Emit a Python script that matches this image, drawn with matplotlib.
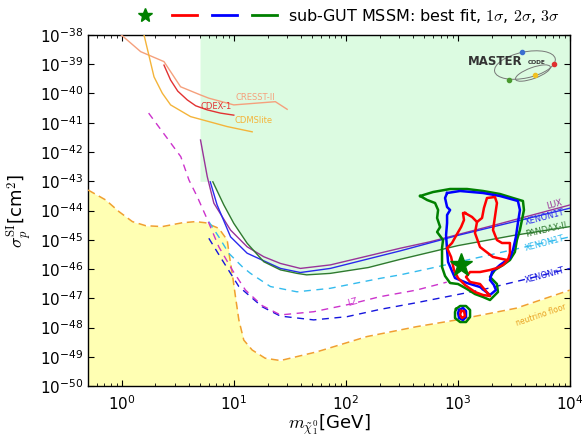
import numpy as np
import matplotlib
matplotlib.use("Agg")
import matplotlib.pyplot as plt
from matplotlib.lines import Line2D
from matplotlib.patches import Ellipse
from matplotlib.ticker import LogLocator, NullLocator

# all curves stored as log10(m / GeV), log10(sigma / cm^2)
cresst_logm = [-0.05, 0.006, 0.169, 0.377, 0.525, 0.703, 0.777, 1.0, 1.371, 1.476]
cresst_logs = [-37.85, -38.03, -38.57, -38.91, -39.77, -40.05, -40.16, -40.39, -40.28, -40.54]

cdex_logm = [0.377, 0.436, 0.50, 0.585, 0.66, 0.763, 0.88, 1.0]
cdex_logs = [-39.03, -39.54, -39.92, -40.22, -40.42, -40.56, -40.67, -40.74]

cdms_logm = [0.18, 0.199, 0.288, 0.362, 0.436, 0.614, 0.94, 1.164]
cdms_logs = [-37.7, -38.0, -39.43, -39.99, -40.39, -40.79, -41.13, -41.31]

lux_logm = [0.703, 0.763, 0.822, 0.971, 1.119, 1.267, 1.416, 1.594, 1.861, 2.485, 2.75, 3.375, 4.0]
lux_logs = [-41.59, -42.84, -43.75, -44.67, -45.24, -45.58, -45.81, -45.98, -45.86, -45.29, -45.07, -44.45, -43.81]

x1t_logm = [0.79, 0.85, 0.971, 1.119, 1.416, 1.594, 1.861, 2.485, 3.0, 4.0]
x1t_logs = [-43.02, -43.80, -44.90, -45.46, -45.98, -46.12, -45.98, -45.38, -44.85, -43.92]

pandax_logm = [0.813, 0.911, 1.0, 1.119, 1.267, 1.416, 1.565, 1.65, 1.86, 2.2, 2.485, 3.0, 3.5, 4.0]
pandax_logs = [-43.02, -43.81, -44.44, -45.12, -45.75, -46.03, -46.15, -46.20, -46.15, -45.95, -45.67, -45.20, -44.85, -44.55]

x1t_proj_logm = [0.777, 0.866, 0.955, 1.075, 1.149, 1.327, 1.564, 1.86, 2.306, 2.485, 2.75, 4.0]
x1t_proj_logs = [-44.38, -44.90, -45.46, -45.92, -46.15, -46.60, -46.78, -46.66, -46.32, -46.20, -45.98, -44.90]

xnt_logm = [0.777, 0.896, 1.045, 1.253, 1.416, 1.713, 2.01, 2.306, 2.633, 3.226, 3.82, 4.0]
xnt_logs = [-44.95, -45.69, -46.60, -47.29, -47.61, -47.74, -47.63, -47.38, -47.15, -46.70, -46.15, -45.98]

lz_logm = [0.24, 0.40, 0.527, 0.60, 0.674, 0.763, 0.866, 0.986, 1.104, 1.253, 1.416, 1.713, 2.04, 2.30, 2.63, 2.90]
lz_logs = [-40.67, -41.50, -42.16, -42.96, -43.53, -44.30, -45.24, -46.03, -46.72, -47.25, -47.57, -47.46, -47.20, -46.95, -46.72, -46.45]

nu_logm = [-0.30, -0.143, -0.024, 0.095, 0.214, 0.362, 0.54, 0.659, 0.748, 0.866, 0.941, 0.962,
           0.986, 1.015, 1.045, 1.089, 1.164, 1.28, 1.416, 1.743, 2.188, 2.633, 2.99, 3.52, 4.0]
nu_logs = [-43.30, -43.64, -44.04, -44.38, -44.52, -44.55, -44.42, -44.38, -44.42, -44.61, -45.01, -45.58,
           -46.15, -46.95, -47.74, -48.43, -48.77, -49.05, -49.13, -48.83, -48.31, -47.97, -47.74, -47.34, -46.72]

# sub-GUT MSSM fit: 1, 2, 3 sigma regions and best-fit point
one_sig_logm = [3.063, 3.126, 3.170, 3.215, 3.232, 3.259, 3.330, 3.348, 3.330, 3.313, 3.348, 3.393,
                3.464, 3.464, 3.446, 3.402, 3.348, 3.286, 3.197, 3.108, 3.072, 3.108, 3.197, 3.241,
                3.286, 3.224, 3.152, 3.063, 3.001, 2.965, 2.939, 2.903, 2.947, 2.992, 3.028, 3.054, 3.045]
one_sig_logs = [-44.085, -44.222, -44.393, -44.256, -43.915, -43.573, -43.538, -43.744, -44.222, -44.667,
                -45.009, -45.111, -45.111, -45.453, -45.692, -45.863, -45.966, -46.034, -46.103, -46.103,
                -46.274, -46.444, -46.513, -46.718, -46.923, -46.889, -46.786, -46.547, -46.308, -46.034,
                -45.590, -45.282, -45.111, -44.803, -44.564, -44.325, -44.085]
one_sig_fold_logm = [3.170, 3.152, 3.197, 3.313, 3.437]
one_sig_fold_logs = [-44.393, -44.769, -45.248, -45.590, -45.692]

two_sig_logm = [2.903, 3.019, 3.224, 3.375, 3.535, 3.553, 3.535, 3.517, 3.491, 3.464, 3.375, 3.304, 3.286,
                3.321, 3.339, 3.286, 3.197, 3.081, 2.974, 2.912, 2.903, 2.894, 2.903, 2.903, 2.930, 2.903, 2.885]
two_sig_logs = [-43.402, -43.333, -43.402, -43.504, -43.675, -43.983, -44.427, -44.906, -45.350, -45.624,
                -45.863, -46.103, -46.376, -46.547, -46.718, -46.889, -46.615, -46.479, -46.308, -45.761,
                -45.350, -44.838, -44.427, -44.154, -43.983, -43.880, -43.573]

three_sig_logm = [2.663, 2.778, 2.930, 3.081, 3.224, 3.375, 3.491, 3.580, 3.589, 3.571, 3.553, 3.526, 3.508,
                  3.464, 3.402, 3.330, 3.286, 3.348, 3.357, 3.286, 3.224, 3.152, 3.081, 3.001, 2.930, 2.885,
                  2.858, 2.858, 2.858, 2.867, 2.814, 2.841, 2.814, 2.823, 2.796, 2.725]
three_sig_logs = [-43.504, -43.368, -43.265, -43.265, -43.333, -43.436, -43.573, -43.675, -43.983, -44.325,
                  -44.667, -45.009, -45.419, -45.692, -45.863, -46.034, -46.274, -46.513, -46.786, -47.060,
                  -46.957, -46.855, -46.684, -46.513, -46.479, -46.239, -45.932, -45.556, -45.282, -45.009,
                  -44.735, -44.564, -44.256, -43.983, -43.744, -43.641]

island3_logm = [2.983, 3.019, 3.072, 3.108, 3.108, 3.072, 3.019, 2.974, 2.974]
island3_logs = [-47.368, -47.265, -47.265, -47.402, -47.641, -47.812, -47.812, -47.675, -47.470]
island2_logm = [3.010, 3.045, 3.072, 3.072, 3.045, 3.010, 3.001]
island2_logs = [-47.402, -47.333, -47.436, -47.641, -47.744, -47.675, -47.504]
island1_logm = [3.028, 3.054, 3.063, 3.037, 3.019]
island1_logs = [-47.436, -47.436, -47.607, -47.675, -47.573]

best_fit_logm = 3.028
best_fit_logs = -45.863

# excluded region starts at 5 GeV
excl_min_logm = 0.703


def pts(logm, logs, close=False):
    m = 10.0 ** np.asarray(logm, dtype=float)
    s = 10.0 ** np.asarray(logs, dtype=float)
    if close:
        m = np.append(m, m[0])
        s = np.append(s, s[0])
    return m, s


plt.rcParams["font.family"] = "DejaVu Sans"
plt.rcParams["mathtext.fontset"] = "dejavusans"

fig = plt.figure(figsize=(5.82, 4.38), dpi=100)
ax = fig.add_axes([0.1512, 0.1187, 0.8282, 0.8014])
ax.set_xscale("log")
ax.set_yscale("log")
ax.set_xlim(0.5, 1e4)
ax.set_ylim(1e-50, 1e-38)

# excluded region (green) bounded below by PandaX-II
pm, ps = pts(pandax_logm, pandax_logs)
gx = np.concatenate([[10 ** excl_min_logm, 10 ** excl_min_logm], pm, [1e4]])
gy = np.concatenate([[1e-38, ps[0]], ps, [1e-38]])
ax.fill(gx, gy, color="#dcfbe1", lw=0, zorder=1)

# neutrino floor
nm, ns = pts(nu_logm, nu_logs)
ax.fill_between(nm, 1e-50, ns, color="#ffffb3", lw=0, zorder=1)
ax.plot(nm, ns, ls=(0, (5, 3)), color="#f0a030", lw=1.1, zorder=3)

# low-mass limits
ax.plot(*pts(cresst_logm, cresst_logs), color="#f5a07c", lw=1.0, zorder=3)
ax.plot(*pts(cdex_logm, cdex_logs), color="#e23232", lw=1.0, zorder=3)
ax.plot(*pts(cdms_logm, cdms_logs), color="#f4b43a", lw=1.0, zorder=3)
ax.text(10 ** 1.193, 10 ** -40.12, "CRESST-II", color="#f5a07c", fontsize=6, ha="center", va="center")
ax.text(10 ** 0.846, 10 ** -40.43, "CDEX-1", color="#e23232", fontsize=6, ha="center", va="center")
ax.text(10 ** 1.175, 10 ** -40.94, "CDMSlite", color="#f4b43a", fontsize=6, ha="center", va="center")

# current limits
ax.plot(*pts(lux_logm, lux_logs), color="#993399", lw=1.0, zorder=3)
ax.plot(*pts(x1t_logm, x1t_logs), color="#2a2aee", lw=1.0, zorder=3)
ax.plot(*pts(pandax_logm, pandax_logs), color="#2f7a2f", lw=1.0, zorder=3)

# projected sensitivities
ax.plot(*pts(x1t_proj_logm, x1t_proj_logs), ls=(0, (5, 4)), color="#33bbee", lw=1.0, zorder=3)
ax.plot(*pts(xnt_logm, xnt_logs), ls=(0, (5, 4)), color="#1515dd", lw=1.0, zorder=3)
ax.plot(*pts(lz_logm, lz_logs), ls=(0, (5, 4)), color="#cc33cc", lw=1.0, zorder=3)

lbl = dict(fontsize=6, ha="center", va="center", rotation_mode="anchor")
ax.text(10 ** 3.856, 10 ** -43.81, "LUX", color="#993399", rotation=15, **lbl)
ax.text(10 ** 3.776, 10 ** -44.22, "XENON1T", color="#2a2aee", rotation=15, **lbl)
ax.text(10 ** 3.785, 10 ** -44.67, "PANDAX-II", color="#2f7a2f", rotation=13, **lbl)
ax.text(10 ** 3.776, 10 ** -45.11, "XENON1T", color="#33bbee", rotation=15, **lbl)
ax.text(10 ** 3.776, 10 ** -46.21, "XENONnT", color="#1515dd", rotation=15, **lbl)
ax.text(10 ** 2.057, 10 ** -47.13, "LZ", color="#cc33cc", rotation=15, **lbl)
ax.text(10 ** 3.74, 10 ** -47.58, "neutrino floor", color="#e8a020", rotation=19,
        **{**lbl, "fontsize": 5.5})

# sub-GUT MSSM regions
ax.plot(*pts(three_sig_logm, three_sig_logs, close=True), color="#008000", lw=1.8, zorder=5)
ax.plot(*pts(two_sig_logm, two_sig_logs, close=True), color="blue", lw=1.8, zorder=6)
ax.plot(*pts(one_sig_logm, one_sig_logs, close=True), color="red", lw=1.8, zorder=7)
ax.plot(*pts(one_sig_fold_logm, one_sig_fold_logs), color="red", lw=1.8, zorder=7)
ax.plot(*pts(island3_logm, island3_logs, close=True), color="#008000", lw=1.8, zorder=5)
ax.plot(*pts(island2_logm, island2_logs, close=True), color="blue", lw=1.8, zorder=6)
ax.plot(*pts(island1_logm, island1_logs, close=True), color="red", lw=1.8, zorder=7)
ax.plot(10 ** best_fit_logm, 10 ** best_fit_logs, marker="*", color="#008000", ms=17, ls="none", zorder=8)

# axes styling
ax.yaxis.set_major_locator(LogLocator(base=10, numticks=20))
ax.yaxis.set_minor_locator(NullLocator())
ax.xaxis.set_major_locator(LogLocator(base=10, numticks=10))
ax.xaxis.set_minor_locator(LogLocator(base=10, subs=np.arange(2, 10), numticks=20))
ax.tick_params(which="both", direction="in", top=True, right=True, labelsize=11)
ax.tick_params(which="major", length=4, width=0.8)
ax.tick_params(which="minor", length=2, width=0.6)
ax.tick_params(axis="x", pad=6)
for sp in ax.spines.values():
    sp.set_linewidth(1.0)

ax.set_xlabel(r"$m_{\tilde{\chi}^0_1}$[GeV]", fontsize=13, math_fontfamily="cm", labelpad=0)
ax.set_ylabel(r"$\sigma_p^{\rm SI}$[cm$^2$]", fontsize=13, math_fontfamily="cm", labelpad=4)

# legend above the axes
handles = [
    Line2D([], [], marker="*", color="#008000", ls="none", ms=10),
    Line2D([], [], color="red", lw=2),
    Line2D([], [], color="blue", lw=2),
    Line2D([], [], color="#008000", lw=2),
]
labels = ["", "", "", r"sub-GUT MSSM: best fit, $1\sigma$, $2\sigma$, $3\sigma$"]
leg = fig.legend(handles, labels, loc="center", bbox_to_anchor=(0.594, 0.964), ncol=4,
                 frameon=False, fontsize=11.5, handlelength=1.55, handletextpad=0.7,
                 columnspacing=0.25, borderpad=0.1)
for t in leg.get_texts():
    t.set_math_fontfamily("cm")

# MasterCode logo
logo = fig.add_axes([0.799, 0.799, 0.163, 0.105])
logo.set_xlim(0, 95)
logo.set_ylim(0, 46)
logo.axis("off")
logo.add_patch(Ellipse((60, 23), 62, 26, angle=12, fill=False, ec="#777777", lw=0.7))
logo.add_patch(Ellipse((68, 15), 37, 11, angle=20, fill=False, ec="#777777", lw=0.7))
logo.text(3, 27, "MASTER", fontsize=8.5, fontweight="bold", color="#333333", va="center", ha="left")
logo.text(63, 25.5, "CODE", fontsize=4.2, fontweight="bold", color="#333333", va="center", ha="left")
logo.plot([56.7], [36.0], "o", color="#3a6fd0", ms=3)
logo.plot([89], [24.3], "o", color="#e03030", ms=3)
logo.plot([43.7], [8.3], "o", color="#4a9a30", ms=3)
logo.plot([70], [13], "o", color="#f0c020", ms=3)

fig.savefig("out.png", dpi=100)
